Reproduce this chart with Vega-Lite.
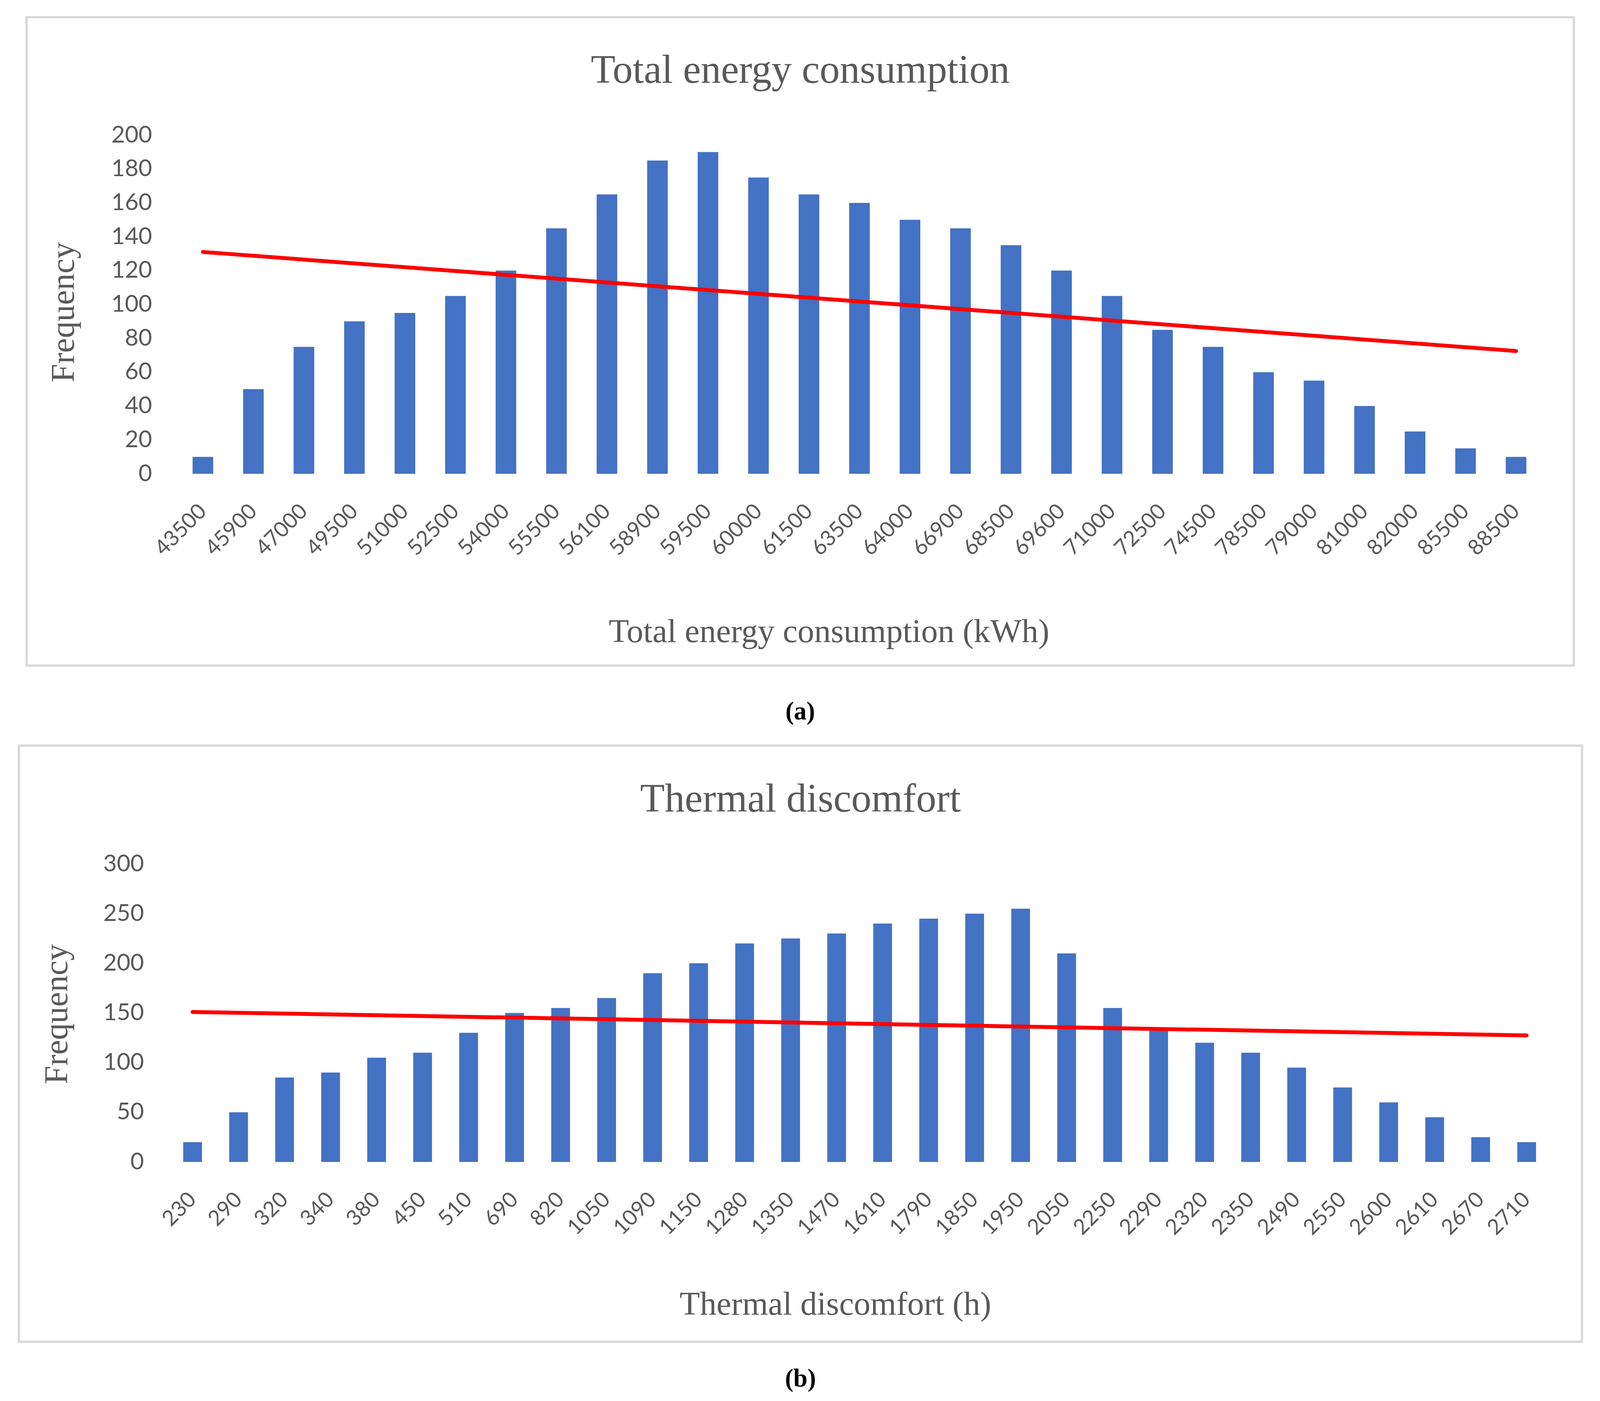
{
  "$schema": "https://vega.github.io/schema/vega-lite/v6.json",
  "background": "white",
  "padding": {"left": 45, "top": 41, "right": 5, "bottom": 5},
  "center": true,
  "spacing": 51,
  "vconcat": [
    {
      "title": {"text": "(a)", "orient": "bottom", "anchor": "middle", "frame": "bounds", "offset": 135, "baseline": "alphabetic", "font": "Liberation Serif", "fontSize": 65, "fontWeight": "bold", "color": "#000000"},
      "vconcat": [
        {
          "width": 3491,
          "height": 867,
          "title": {"text": "Total energy consumption", "anchor": "middle", "frame": "bounds", "offset": -274, "baseline": "alphabetic", "font": "Liberation Serif", "fontSize": 103, "fontWeight": "normal", "color": "#595959"},
          "layer": [
            {
              "data": {"values": [{}]},
              "mark": {"type": "rect", "filled": false, "color": "#D9D9D9", "strokeWidth": 6},
              "encoding": {
                "x": {"datum": -0.1108, "type": "quantitative", "scale": {"domain": [0, 1], "nice": false, "zero": false}, "axis": null},
                "x2": {"datum": 1.0239},
                "y": {"datum": 1.3483, "type": "quantitative", "scale": {"domain": [0, 1], "nice": false, "zero": false}, "axis": null},
                "y2": {"datum": -0.5663}
              }
            },
            {
              "data": {
                "values": [
                  {"bin": "43500", "frequency": 10, "trend": 131},
                  {"bin": "45900", "frequency": 50},
                  {"bin": "47000", "frequency": 75},
                  {"bin": "49500", "frequency": 90},
                  {"bin": "51000", "frequency": 95},
                  {"bin": "52500", "frequency": 105},
                  {"bin": "54000", "frequency": 120},
                  {"bin": "55500", "frequency": 145},
                  {"bin": "56100", "frequency": 165},
                  {"bin": "58900", "frequency": 185},
                  {"bin": "59500", "frequency": 190},
                  {"bin": "60000", "frequency": 175},
                  {"bin": "61500", "frequency": 165},
                  {"bin": "63500", "frequency": 160},
                  {"bin": "64000", "frequency": 150},
                  {"bin": "66900", "frequency": 145},
                  {"bin": "68500", "frequency": 135},
                  {"bin": "69600", "frequency": 120},
                  {"bin": "71000", "frequency": 105},
                  {"bin": "72500", "frequency": 85},
                  {"bin": "74500", "frequency": 75},
                  {"bin": "78500", "frequency": 60},
                  {"bin": "79000", "frequency": 55},
                  {"bin": "81000", "frequency": 40},
                  {"bin": "82000", "frequency": 25},
                  {"bin": "85500", "frequency": 15},
                  {"bin": "88500", "frequency": 10, "trend": 72.5}
                ]
              },
              "layer": [
                {
                  "mark": {"type": "bar", "color": "#4472C4"},
                  "encoding": {
                    "x": {
                      "field": "bin", "type": "nominal", "sort": null,
                      "scale": {"paddingInner": 0.592, "paddingOuter": 0.296},
                      "axis": {"title": "Total energy consumption (kWh)", "titleX": 1667, "titleY": 430}
                    },
                    "y": {
                      "field": "frequency", "type": "quantitative",
                      "scale": {"domain": [0, 200], "nice": false},
                      "axis": {"title": "Frequency", "values": [0, 20, 40, 60, 80, 100, 120, 140, 160, 180, 200], "labelPadding": 66, "titleX": -266, "titleY": 453}
                    }
                  }
                },
                {
                  "transform": [{"filter": "datum.trend != null"}],
                  "mark": {"type": "line", "color": "#FF0000", "strokeWidth": 10, "strokeCap": "round"},
                  "encoding": {
                    "x": {"field": "bin", "type": "nominal", "sort": null},
                    "y": {"field": "trend", "type": "quantitative"}
                  }
                }
              ]
            }
          ],
          "resolve": {"scale": {"x": "independent", "y": "independent"}}
        }
      ]
    },
    {
      "title": {"text": "(b)", "orient": "bottom", "anchor": "middle", "frame": "bounds", "offset": 112, "baseline": "alphabetic", "font": "Liberation Serif", "fontSize": 65, "fontWeight": "bold", "color": "#000000"},
      "vconcat": [
        {
          "width": 3533,
          "height": 763,
          "title": {"text": "Thermal discomfort", "anchor": "middle", "frame": "bounds", "offset": -275, "baseline": "alphabetic", "font": "Liberation Serif", "fontSize": 103, "fontWeight": "normal", "color": "#595959"},
          "layer": [
            {
              "data": {"values": [{}]},
              "mark": {"type": "rect", "filled": false, "color": "#D9D9D9", "strokeWidth": 6},
              "encoding": {
                "x": {"datum": -0.1092, "type": "quantitative", "scale": {"domain": [0, 1], "nice": false, "zero": false}, "axis": null},
                "x2": {"datum": 1.0234},
                "y": {"datum": 1.3971, "type": "quantitative", "scale": {"domain": [0, 1], "nice": false, "zero": false}, "axis": null},
                "y2": {"datum": -0.6029}
              }
            },
            {
              "data": {
                "values": [
                  {"bin": "230", "frequency": 20, "trend": 151},
                  {"bin": "290", "frequency": 50},
                  {"bin": "320", "frequency": 85},
                  {"bin": "340", "frequency": 90},
                  {"bin": "380", "frequency": 105},
                  {"bin": "450", "frequency": 110},
                  {"bin": "510", "frequency": 130},
                  {"bin": "690", "frequency": 150},
                  {"bin": "820", "frequency": 155},
                  {"bin": "1050", "frequency": 165},
                  {"bin": "1090", "frequency": 190},
                  {"bin": "1150", "frequency": 200},
                  {"bin": "1280", "frequency": 220},
                  {"bin": "1350", "frequency": 225},
                  {"bin": "1470", "frequency": 230},
                  {"bin": "1610", "frequency": 240},
                  {"bin": "1790", "frequency": 245},
                  {"bin": "1850", "frequency": 250},
                  {"bin": "1950", "frequency": 255},
                  {"bin": "2050", "frequency": 210},
                  {"bin": "2250", "frequency": 155},
                  {"bin": "2290", "frequency": 135},
                  {"bin": "2320", "frequency": 120},
                  {"bin": "2350", "frequency": 110},
                  {"bin": "2490", "frequency": 95},
                  {"bin": "2550", "frequency": 75},
                  {"bin": "2600", "frequency": 60},
                  {"bin": "2610", "frequency": 45},
                  {"bin": "2670", "frequency": 25},
                  {"bin": "2710", "frequency": 20, "trend": 127.4}
                ]
              },
              "layer": [
                {
                  "mark": {"type": "bar", "color": "#4472C4"},
                  "encoding": {
                    "x": {
                      "field": "bin", "type": "nominal", "sort": null,
                      "scale": {"paddingInner": 0.592, "paddingOuter": 0.296},
                      "axis": {"title": "Thermal discomfort (h)", "titleX": 1704, "titleY": 390}
                    },
                    "y": {
                      "field": "frequency", "type": "quantitative",
                      "scale": {"domain": [0, 300], "nice": false},
                      "axis": {"title": "Frequency", "values": [0, 50, 100, 150, 200, 250, 300], "labelPadding": 66, "titleX": -263, "titleY": 384}
                    }
                  }
                },
                {
                  "transform": [{"filter": "datum.trend != null"}],
                  "mark": {"type": "line", "color": "#FF0000", "strokeWidth": 10, "strokeCap": "round"},
                  "encoding": {
                    "x": {"field": "bin", "type": "nominal", "sort": null},
                    "y": {"field": "trend", "type": "quantitative"}
                  }
                }
              ]
            }
          ],
          "resolve": {"scale": {"x": "independent", "y": "independent"}}
        }
      ]
    }
  ],
  "config": {
    "view": {"stroke": null},
    "axis": {
      "labelFont": "Lato",
      "labelColor": "#595959",
      "titleFont": "Liberation Serif",
      "titleFontWeight": "normal",
      "titleFontSize": 85,
      "titleColor": "#595959",
      "ticks": false,
      "tickSize": 0,
      "domain": false
    },
    "axisY": {
      "labelFontSize": 60,
      "grid": true,
      "gridColor": "#D9D9D9",
      "gridWidth": 6,
      "titleBaseline": "alphabetic"
    },
    "axisX": {
      "labelFontSize": 55,
      "labelAngle": -45,
      "labelAlign": "right",
      "labelBaseline": "middle",
      "labelPadding": 87,
      "labelOverlap": false,
      "grid": false,
      "titleBaseline": "alphabetic"
    }
  }
}
